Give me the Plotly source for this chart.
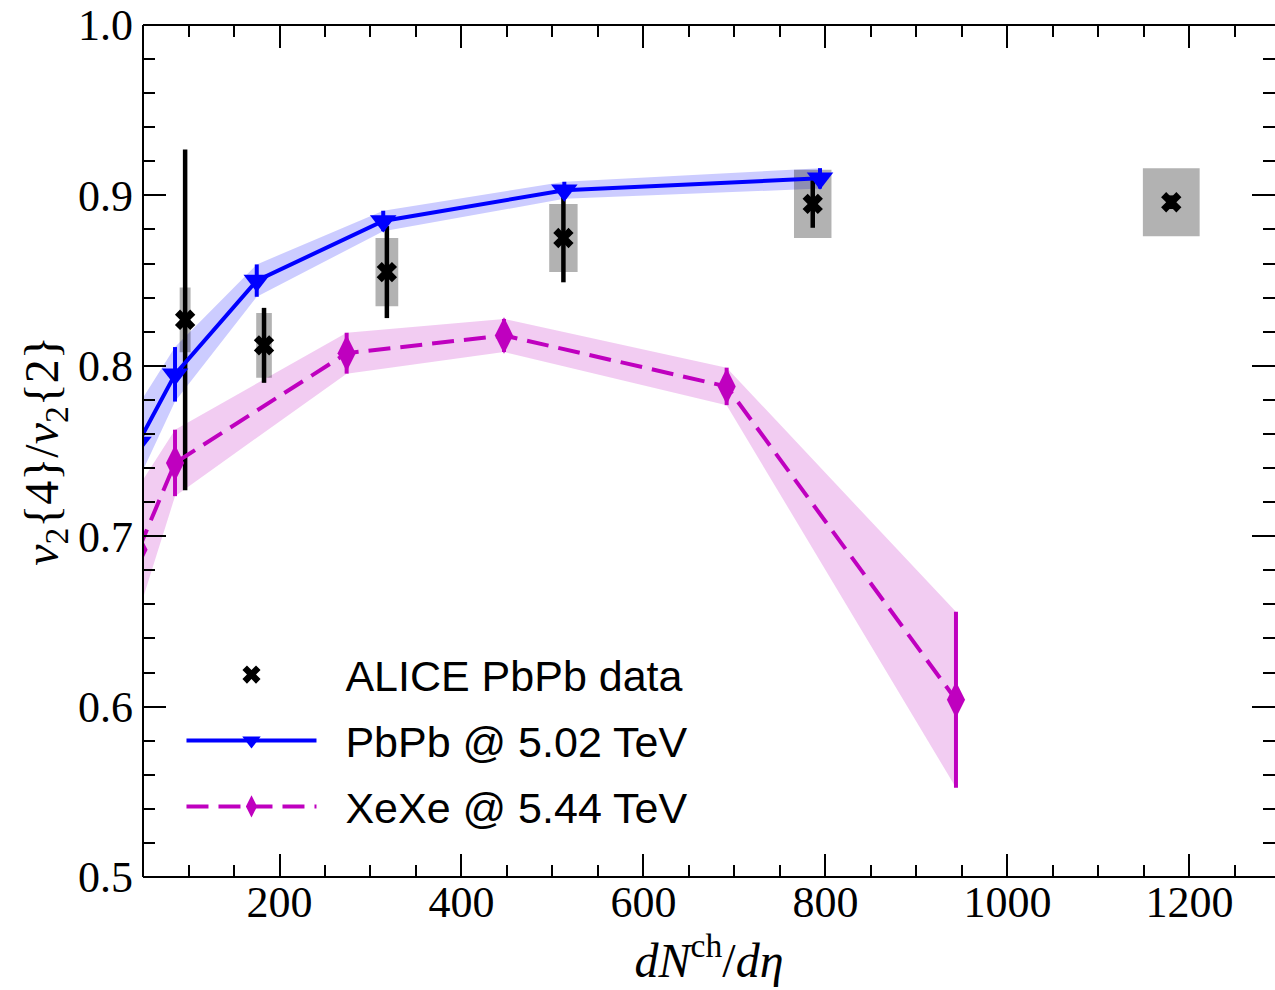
import plotly.graph_objects as go

# ---------------- data ----------------
alice_x = [96.3, 183, 318, 512, 786, 1180]
alice_y = [0.827, 0.812, 0.855, 0.875, 0.895, 0.896]
alice_stat = [0.100, 0.022, 0.027, 0.026, 0.014, 0.004]
alice_sys = [0.019, 0.019, 0.020, 0.020, 0.020, 0.020]
alice_sys_halfwidth = [6.0, 8.6, 12.5, 15.6, 20.6, 31.2]

pbpb_x = [45, 85.2, 175, 314, 513, 794]
pbpb_y = [0.755, 0.795, 0.850, 0.885, 0.903, 0.910]
pbpb_err = [0.022, 0.016, 0.0095, 0.006, 0.005, 0.006]

xexe_x = [45, 85.2, 273.8, 446.7, 691.4, 943.4]
xexe_y = [0.692, 0.743, 0.8074, 0.8178, 0.7879, 0.604]
xexe_err = [0.037, 0.0195, 0.012, 0.0097, 0.011, 0.0516]

x_ticks = [200, 400, 600, 800, 1000, 1200]
y_ticks = [0.5, 0.6, 0.7, 0.8, 0.9, 1.0]

names = ["ALICE PbPb data", "PbPb @ 5.02 TeV", "XeXe @ 5.44 TeV"]

BLUE = "#0000FF"
MAG = "#BF00BF"
SERIF = "Liberation Serif"
SANS = "Liberation Sans"
PAD = "\u00a0\u00a0"

fig = go.Figure()

# bands
def add_band(x, y, e, color):
    lo = [a - b for a, b in zip(y, e)]
    hi = [a + b for a, b in zip(y, e)]
    fig.add_trace(go.Scatter(x=x, y=lo, mode="lines", line=dict(width=0),
                             showlegend=False, hoverinfo="skip"))
    fig.add_trace(go.Scatter(x=x, y=hi, mode="lines", line=dict(width=0),
                             fill="tonexty", fillcolor=color,
                             showlegend=False, hoverinfo="skip"))

add_band(pbpb_x, pbpb_y, pbpb_err, "rgba(0,0,255,0.2)")
add_band(xexe_x, xexe_y, xexe_err, "rgba(191,0,191,0.2)")

# systematic boxes
bx, by = [], []
for x, y, s, hw in zip(alice_x, alice_y, alice_sys, alice_sys_halfwidth):
    bx += [x - hw, x + hw, x + hw, x - hw, x - hw, None]
    by += [y - s, y - s, y + s, y + s, y - s, None]
fig.add_trace(go.Scatter(x=bx, y=by, mode="lines", line=dict(width=0),
                         fill="toself", fillcolor="rgba(0,0,0,0.3)",
                         showlegend=False, hoverinfo="skip"))

# ALICE data
fig.add_trace(go.Scatter(
    x=alice_x, y=alice_y, mode="markers", name=PAD + names[0], legendgroup="a",
    marker=dict(symbol="x", size=18, color="black"),
    error_y=dict(type="data", array=alice_stat, color="black", thickness=4.5, width=0),
))

# PbPb model
fig.add_trace(go.Scatter(
    x=pbpb_x, y=pbpb_y, mode="lines+markers", name=PAD + names[1], legendgroup="b",
    line=dict(color=BLUE, width=4),
    marker=dict(symbol="triangle-down", size=23, color=BLUE),
    error_y=dict(type="data", array=pbpb_err, color=BLUE, thickness=4, width=0),
))

# XeXe model
fig.add_trace(go.Scatter(
    x=xexe_x, y=xexe_y, mode="lines+markers", name=PAD + names[2], legendgroup="c",
    line=dict(color=MAG, width=4, dash="22px,10px"),
    marker=dict(symbol="diamond-tall", size=26, color=MAG),
    error_y=dict(type="data", array=xexe_err, color=MAG, thickness=4, width=0),
))

axis_common = dict(
    showline=False, mirror="ticks",
    ticks="inside", ticklen=23, tickwidth=2, tickcolor="black",
    showgrid=False, zeroline=False,
    tickfont=dict(family=SERIF, size=44, color="black"),
)

fig.update_xaxes(
    range=[50, 1294], tickvals=x_ticks, ticktext=[str(v) for v in x_ticks],
    minor=dict(dtick=50, tick0=0, ticks="inside", ticklen=12, tickwidth=1.6, tickcolor="black"),
    ticklabelstandoff=-5,
    title=dict(text="<i>dN</i><sup>ch</sup>/<i>dη</i>", font=dict(family=SERIF, size=48, color="black"), standoff=0),
    **axis_common,
)
fig.update_yaxes(
    range=[0.5, 1.0], tickvals=y_ticks, ticktext=[f"{v:.1f}" for v in y_ticks],
    minor=dict(dtick=0.02, tick0=0.5, ticks="inside", ticklen=12, tickwidth=1.6, tickcolor="black"),
    ticklabelstandoff=9,
    title=dict(text="<i>v</i><sub>2</sub>{4}/<i>v</i><sub>2</sub>{2}", font=dict(family=SERIF, size=48, color="black"), standoff=4),
    **axis_common,
)

# frame lines (left, bottom, top); right spine lies just beyond the picture
for x0, y0, x1, y1 in [(0, 0, 0, 1), (0, 0, 1, 0), (0, 1, 1, 1)]:
    fig.add_shape(type="line", xref="paper", yref="paper", x0=x0, y0=y0, x1=x1, y1=y1,
                  line=dict(color="black", width=2), layer="above")

fig.update_layout(
    width=1275, height=990,
    margin=dict(l=143, r=0, t=25, b=113, autoexpand=False),
    plot_bgcolor="white", paper_bgcolor="white",
    legend=dict(
        x=0.034, y=0.278, xanchor="left", yanchor="top", traceorder="grouped",
        bgcolor="rgba(0,0,0,0)", itemwidth=130,
        font=dict(family=SANS, size=43, color="black"),
        tracegroupgap=7,
    ),
)

fig.write_html("out.html")
